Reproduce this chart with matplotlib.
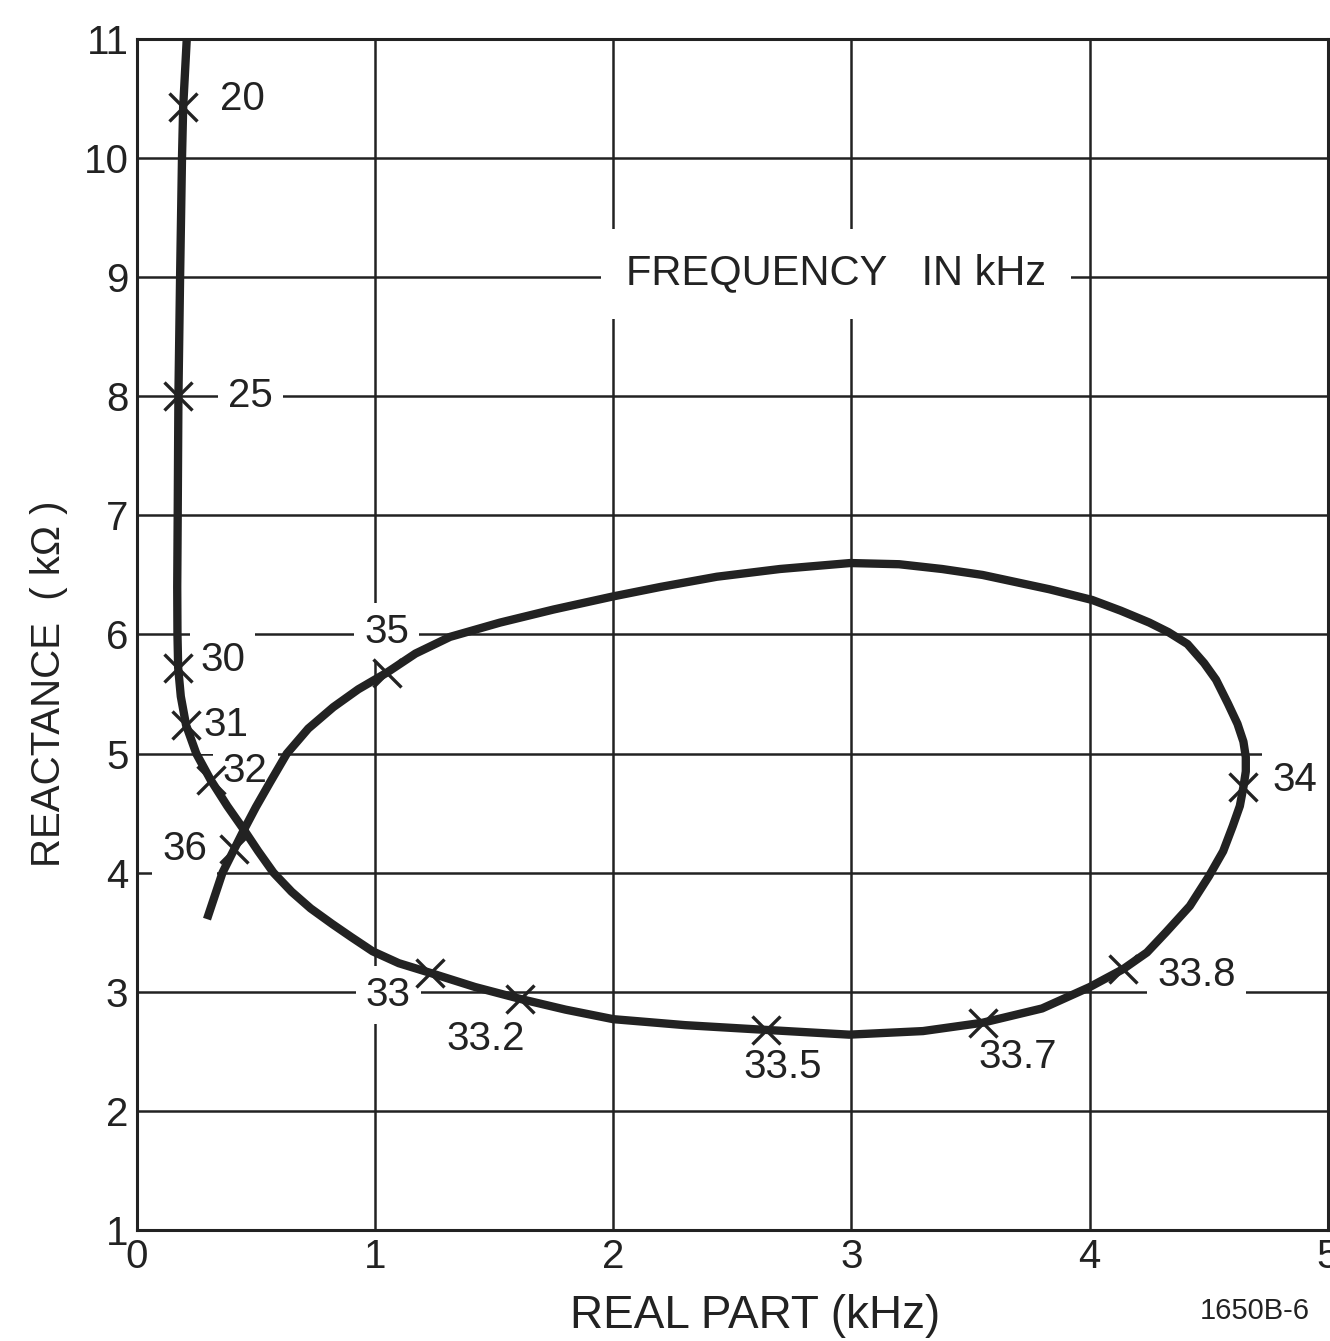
import matplotlib
matplotlib.use("Agg")
import matplotlib.pyplot as plt

plt.rcParams['font.family'] = ['Liberation Sans', 'DejaVu Sans']

# impedance locus (real part kHz, reactance kOhm), in frequency order
curve_x = [0.21, 0.195, 0.19, 0.182, 0.175, 0.172, 0.170, 0.171, 0.174, 0.185, 0.207, 0.25,
           0.31, 0.38, 0.45, 0.51, 0.574, 0.65, 0.73, 0.82, 0.90, 0.99, 1.10, 1.23, 1.42, 1.61,
           1.80, 2.0, 2.30, 2.64, 2.99, 3.30, 3.55, 3.80, 4.0, 4.14, 4.24, 4.32, 4.42,
           4.50, 4.56, 4.60, 4.63, 4.645, 4.655, 4.655, 4.645, 4.62, 4.58, 4.53, 4.48, 4.41,
           4.33, 4.25, 4.13, 4.01, 3.83, 3.55, 3.38, 3.20, 2.995, 2.70, 2.435, 2.2, 2.0,
           1.75, 1.525, 1.315, 1.17, 1.05, 0.93, 0.825, 0.72, 0.63, 0.56, 0.50, 0.45, 0.41,
           0.36, 0.295]
curve_y = [11.0, 10.43, 10.0, 9.0, 8.0, 7.0, 6.4, 6.0, 5.72, 5.48, 5.24, 5.0,
           4.78, 4.56, 4.36, 4.18, 4.0, 3.84, 3.70, 3.57, 3.46, 3.34, 3.24, 3.16, 3.04, 2.94,
           2.85, 2.77, 2.72, 2.68, 2.64, 2.67, 2.74, 2.86, 3.04, 3.19, 3.33, 3.50, 3.72,
           3.97, 4.18, 4.39, 4.56, 4.72, 4.85, 4.97, 5.10, 5.25, 5.42, 5.62, 5.76, 5.92,
           6.02, 6.10, 6.20, 6.29, 6.38, 6.50, 6.55, 6.59, 6.60, 6.55, 6.485, 6.40, 6.32,
           6.21, 6.10, 5.98, 5.84, 5.68, 5.54, 5.39, 5.21, 5.0, 4.76, 4.55, 4.36, 4.20,
           4.0, 3.61]

freq_labels = ["20", "25", "30", "31", "32", "33", "33.2", "33.5", "33.7", "33.8", "34", "35", "36"]
freq_x = [0.195, 0.175, 0.174, 0.207, 0.31, 1.23, 1.61, 2.64, 3.55, 4.14, 4.645, 1.05, 0.41]
freq_y = [10.43, 8.0, 5.72, 5.24, 4.78, 3.16, 2.94, 2.68, 2.74, 3.19, 4.72, 5.68, 4.20]

# label offsets from each marker, in points
label_offsets = {"20": (43, 6), "25": (52, 0), "30": (32, 6), "31": (29, 0), "32": (25, 6),
                 "33": (-30, -16), "33.2": (-25, -29), "33.5": (12, -27), "33.7": (25, -25),
                 "33.8": (53, -4), "34": (37, 5), "35": (0, 29), "36": (-36, 0)}

ink = "#222222"
fig = plt.figure(figsize=(13.3, 13.41), dpi=100)
ax = fig.add_axes([0.1028, 0.0828, 0.8957, 0.8881])

ax.set_xlim(0, 5)
ax.set_ylim(1, 11)
ax.set_xticks(range(0, 6))
ax.set_yticks(range(1, 12))
ax.grid(True, color=ink, linewidth=1.8)
ax.set_axisbelow(True)
ax.tick_params(length=0, labelsize=29, colors=ink, pad=6)
for s in ax.spines.values():
    s.set_linewidth(2.2)
    s.set_color(ink)

ax.plot(curve_x, curve_y, color=ink, linewidth=6, solid_capstyle="butt",
        solid_joinstyle="round", zorder=3)
ax.plot(freq_x, freq_y, linestyle="none", marker="x", markersize=20, markeredgewidth=2.4,
        color=ink, zorder=4)

box = dict(boxstyle="square,pad=0.25", facecolor="white", edgecolor="none")
for lab, fx, fy in zip(freq_labels, freq_x, freq_y):
    ax.annotate(lab, (fx, fy), xytext=label_offsets[lab], textcoords="offset points",
                ha="center", va="center", fontsize=29, color=ink, bbox=box, zorder=2.5)

ax.text(2.935, 9.03, "FREQUENCY   IN kHz", ha="center", va="center", fontsize=30,
        color=ink, bbox=dict(boxstyle="square,pad=0.6", facecolor="white", edgecolor="none"),
        zorder=2.5)

fig.text(0.568, 0.002, "REAL PART (kHz)", ha="center", va="bottom", fontsize=33, color=ink)
fig.text(0.037, 0.49, "REACTANCE  ( kΩ )", ha="center", va="center", rotation=90,
         fontsize=29, color=ink)
fig.text(0.985, 0.012, "1650B-6", ha="right", va="bottom", fontsize=21, color=ink,
         fontstretch="condensed")

fig.savefig("out.png", dpi=100)
